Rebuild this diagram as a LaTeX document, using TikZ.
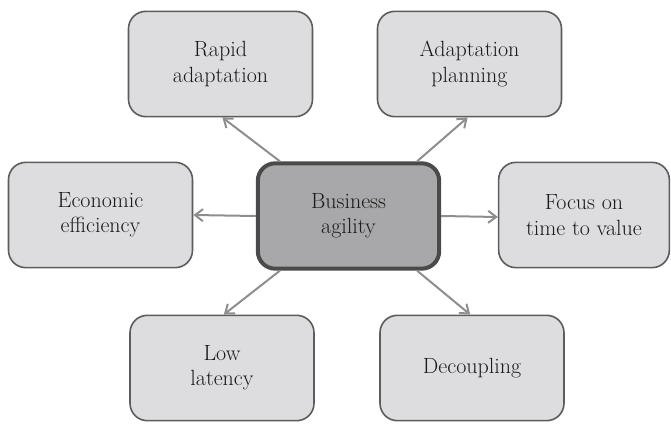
\documentclass[tikz,border=0pt]{standalone}
\usetikzlibrary{arrows.meta,calc}
\definecolor{boxfill}{HTML}{DDDDDF}
\definecolor{boxline}{HTML}{5C5C5C}
\definecolor{hubfill}{HTML}{A8A8AA}
\definecolor{hubline}{HTML}{4A4A4A}
\definecolor{linkgray}{HTML}{8E8E8E}
\definecolor{txt}{HTML}{1A1A1A}
\begin{document}
\begin{tikzpicture}[x=0.75pt,y=-0.75pt,
  item/.style={draw=boxline,line width=1.2pt,fill=boxfill,rounded corners=13pt,
    minimum width=138pt,minimum height=79pt,align=center,text=txt,
    font=\fontsize{16.5}{19}\selectfont,inner sep=0pt},
  hub/.style={item,draw=hubline,fill=hubfill,line width=3pt,
    minimum width=136pt,minimum height=79pt},
  link/.style={draw=linkgray,line width=1.5pt,
    -{Straight Barb[length=6pt,width=9pt,line width=1.5pt]}}]
\useasboundingbox (0,0) rectangle (671,424);
\node[hub]  (c) at (348.5,216) {Business\\agility};
\node[item] (r) at (220.5,64)  {Rapid\\adaptation};
\node[item] (p) at (469.5,64)  {Adaptation\\planning};
\node[item] (e) at (100.5,215) {Economic\\efficiency};
\node[item,minimum width=128pt] (f) at (584,215) {Focus on\\time to value};
\node[item] (l) at (222,368)   {Low\\latency};
\node[item] (d) at (472,368)   {Decoupling};
\draw[link] ($(c.north west)!0.13!(c.north east)$) -- ($(r.south west)!0.51!(r.south east)$);
\draw[link] ($(c.north west)!0.87!(c.north east)$) -- ($(p.south west)!0.49!(p.south east)$);
\draw[link] ($(c.south west)!0.13!(c.south east)$) -- ($(l.north west)!0.51!(l.north east)$);
\draw[link] ($(c.south west)!0.87!(c.south east)$) -- ($(d.north west)!0.49!(d.north east)$);
\draw[link] (c.west) -- (e.east);
\draw[link] (c.east) -- ($(f.west)+(0,2)$);
\end{tikzpicture}
\end{document}
